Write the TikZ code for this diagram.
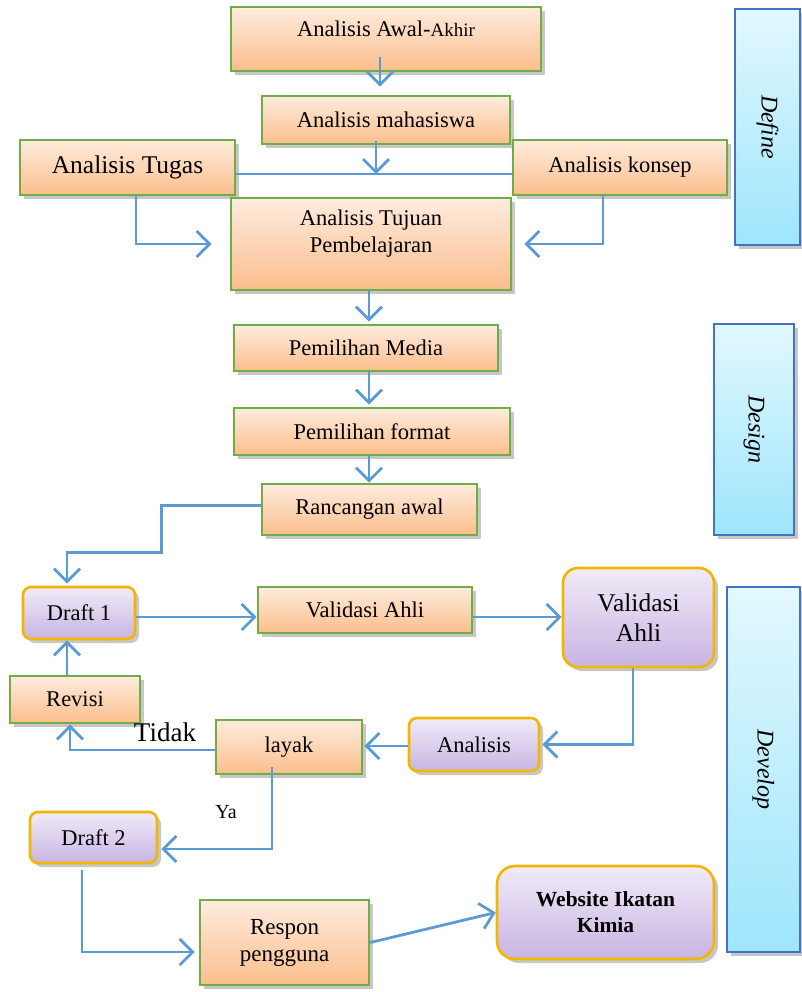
\documentclass[tikz,border=0pt]{standalone}
\usepackage{fontspec}
\setmainfont{Liberation Serif}
\usetikzlibrary{arrows.meta,shadows}
\definecolor{ortop}{RGB}{254,236,222}
\definecolor{orbot}{RGB}{251,190,140}
\definecolor{grn}{RGB}{112,173,71}
\definecolor{pptop}{RGB}{241,235,248}
\definecolor{ppbot}{RGB}{200,180,226}
\definecolor{gold}{RGB}{242,182,0}
\definecolor{bltop}{RGB}{226,248,254}
\definecolor{blbot}{RGB}{158,230,252}
\definecolor{blbord}{RGB}{68,114,196}
\definecolor{arrblue}{RGB}{91,155,213}
\begin{document}
\begin{tikzpicture}[x=1pt,y=-1pt,
  font=\fontsize{22.5}{27}\selectfont,
  shade/.style={drop shadow={shadow xshift=4pt,shadow yshift=-4pt,fill=black,opacity=0.22}},
  obox/.style={draw=grn,line width=2.6pt,top color=ortop,bottom color=orbot,shade,align=center,inner sep=0pt},
  pbox/.style={draw=gold,line width=2.6pt,top color=pptop,bottom color=ppbot,rounded corners=8pt,shade,align=center,inner sep=0pt},
  phase/.style={draw=blbord,line width=2.6pt,top color=bltop,bottom color=blbot,shade,inner sep=0pt},
  arr/.style={draw=arrblue,line width=2.8pt,-{Straight Barb[length=13pt,width=26pt]}}]
\useasboundingbox (0,0) rectangle (802,992);
% define
\node[obox,minimum width=310,minimum height=64,text depth=20pt] (awal) at (386,39) {Analisis Awal-{\fontsize{19}{22}\selectfont Akhir}};
\node[obox,minimum width=248,minimum height=48] (mhs) at (386,120) {Analisis mahasiswa};
\node[obox,minimum width=215,minimum height=55,font=\fontsize{25.5}{28}\selectfont] (tugas) at (127.5,167.5) {Analisis Tugas};
\node[obox,minimum width=214,minimum height=55] (konsep) at (620,167.5) {Analisis konsep};
\node[obox,minimum width=280,minimum height=92,text depth=26pt] (tujuan) at (371,244) {Analisis Tujuan\\Pembelajaran};
% design
\node[obox,minimum width=264,minimum height=46] (media) at (366,348) {Pemilihan Media};
\node[obox,minimum width=276,minimum height=47] (format) at (372,431.5) {Pemilihan format};
\node[obox,minimum width=215,minimum height=51] (rancang) at (369.5,509.5) {Rancangan awal};
% develop
\node[pbox,minimum width=112,minimum height=52] (draft1) at (79,613) {Draft 1};
\node[obox,minimum width=214,minimum height=46] (valahli) at (365,610) {Validasi Ahli};
\node[pbox,rounded corners=15pt,minimum width=151,minimum height=99,font=\fontsize{25.5}{30}\selectfont] (valahli2) at (638.5,617.5) {Validasi\\Ahli};
\node[obox,minimum width=130,minimum height=47] (revisi) at (75,699.5) {Revisi};
\node[obox,minimum width=146,minimum height=54] (layak) at (289,747) {layak};
\node[pbox,minimum width=130,minimum height=53] (analisis) at (474,744.5) {Analisis};
\node[pbox,minimum width=127,minimum height=51] (draft2) at (93.5,837.5) {Draft 2};
\node[obox,minimum width=169,minimum height=85,font=\fontsize{23}{27}\selectfont] (respon) at (284.5,942.5) {Respon\\pengguna};
\node[pbox,rounded corners=18pt,minimum width=217,minimum height=93,font=\bfseries\fontsize{21.5}{26}\selectfont] (web) at (605.5,912.5) {Website Ikatan\\Kimia};
\node[font=\fontsize{27}{30}\selectfont] (tidak) at (165,732) {Tidak};
\node[font=\fontsize{20}{24}\selectfont] (ya) at (226,812) {Ya};
% phases
\node[phase,minimum width=65,minimum height=236] (define) at (767.5,127) {};
\node[rotate=-90,font=\itshape\fontsize{24}{28}\selectfont] (tdefine) at (define.center) {Define};
\node[phase,minimum width=80,minimum height=211] (design) at (754,429.5) {};
\node[rotate=-90,font=\itshape\fontsize{24}{28}\selectfont] (tdesign) at (design.center) {Design};
\node[phase,minimum width=73,minimum height=365] (develop) at (763.5,769.5) {};
\node[rotate=-90,font=\itshape\fontsize{24}{28}\selectfont] (tdevelop) at (develop.center) {Develop};
% connectors
\coordinate (join) at (376,174);
\draw[arr] ([xshift=-6pt,yshift=15pt]awal.south) -- ([xshift=-6pt,yshift=8pt]mhs.north);
\draw[arrblue,line width=1.6pt] (tugas.east |- join) -- (konsep.west |- join);
\draw[arr] ([yshift=4pt]mhs.south -| join) -- (join);
\draw[arr] ([xshift=8.5pt]tugas.south) |- ([xshift=-18pt]tujuan.west);
\draw[arr] ([xshift=-17pt]konsep.south) |- ([xshift=12pt]tujuan.east);
\draw[arr] ([xshift=-2pt]tujuan.south) -- ([xshift=-2pt,yshift=2pt]tujuan.south |- media.north);
\draw[arr] ([xshift=3pt]media.south) -- ([xshift=3pt,yshift=2pt]media.south |- format.north);
\draw[arr] ([xshift=-3pt]format.south) -- ([xshift=-3pt]format.south |- rancang.north);
\draw[arr] ([yshift=4pt]rancang.west) -- ++(-99,0) -- ++(0,47) -| ([xshift=-12pt,yshift=2pt]draft1.north);
\draw[arr] ([yshift=-4pt]draft1.east) -- ([yshift=-4pt]draft1.east -| valahli.west);
\draw[arr] ([yshift=-7pt]valahli.east) -- ([yshift=-7pt]valahli.east -| valahli2.west);
\draw[arr] ([xshift=-5.5pt]valahli2.south) |- ([xshift=2pt]analisis.east);
\draw[arr] ([yshift=-1.5pt]analisis.west) -- ([yshift=-1.5pt,xshift=1pt]analisis.west -| layak.east);
\draw[arr] ([yshift=-3pt]layak.west) -| ([xshift=-5pt]revisi.south);
\draw[arr] ([xshift=-8pt]revisi.north) -- ([xshift=-8pt]revisi.north |- draft1.south);
\draw[arr] ([xshift=-17pt,yshift=8pt]layak.south) |- ([yshift=-11.5pt,xshift=3pt]draft2.east);
\draw[arr] ([xshift=-11.5pt,yshift=-6pt]draft2.south) |- ([yshift=-9.5pt,xshift=-4pt]respon.west);
\draw[arr] (respon.east) -- (web.west);
\end{tikzpicture}
\end{document}
